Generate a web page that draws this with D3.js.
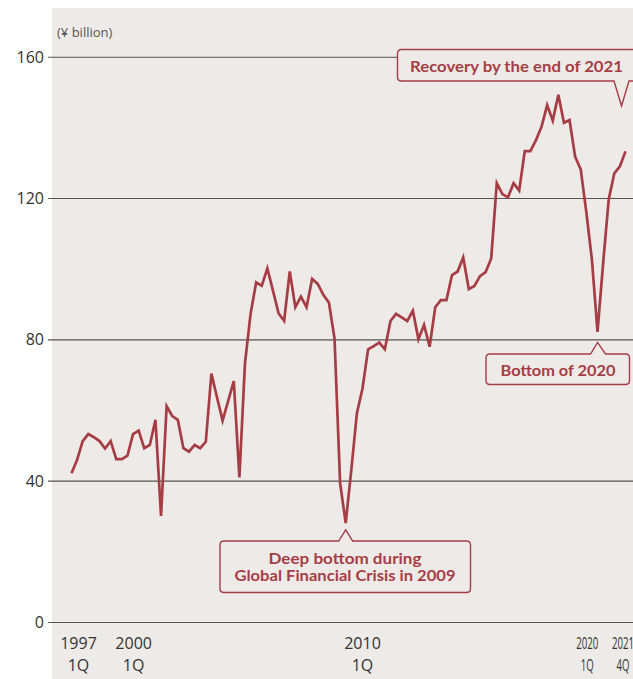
<!DOCTYPE html>
<html>
<head>
<meta charset="utf-8">
<script src="https://cdn.jsdelivr.net/npm/d3@7/dist/d3.min.js"></script>
<style>
  html, body { margin: 0; padding: 0; background: #ffffff; }
  svg { display: block; }
</style>
</head>
<body>
<svg id="chart" width="633" height="679"></svg>
<script>
// ---- data ----
const quarterIndex = d3.range(100); // 1997 1Q ... 2021 4Q
const values = [
  42.1, 45.9, 51.2, 53.2, 52.3, 51.2, 49.1, 51.2, 46.1, 46.1,
  47.1, 53.2, 54.2, 49.2, 50.1, 57.2, 30.0, 61.1, 58.3, 57.2,
  49.2, 48.2, 50.1, 49.2, 51.0, 70.3, 63.6, 57.0, 62.6, 68.2,
  40.9, 73.2, 87.2, 96.1, 95.2, 100.1, 93.8, 87.4, 85.2, 99.2,
  89.1, 92.1, 89.1, 97.1, 95.7, 92.6, 90.4, 80.3, 39.3, 28.0,
  43.0, 59.1, 66.1, 77.2, 78.1, 79.1, 77.2, 85.2, 87.2, 86.2,
  85.2, 88.1, 80.0, 84.1, 77.9, 89.1, 91.1, 91.1, 98.2, 99.2,
  103.2, 94.2, 95.1, 97.9, 99.0, 102.9, 124.2, 121.1, 120.2, 124.2,
  122.1, 133.3, 133.3, 136.4, 140.2, 146.3, 141.9, 149.2, 141.3, 142.1,
  131.7, 128.1, 116.0, 102.5, 82.1, 101.5, 119.6, 127.0, 129.0, 133.2
];
const yTicks = [0, 40, 80, 120, 160];
const xTickIndex = [0, 12, 52, 92, 99];
const xTickYear = ["1997", "2000", "2010", "2020", "2021"];
const xTickQuarter = ["1Q", "1Q", "1Q", "1Q", "4Q"];
const unitLabel = "(¥ billion)";
const noteRecovery = ["Recovery by the end of 2021"];
const noteBottom2020 = ["Bottom of 2020"];
const noteGFC = ["Deep bottom during", "Global Financial Crisis in 2009"];

// ---- styles / layout ----
const W = 633, H = 679;
const panelX = 52, panelY = 8;
const red = "#A63D45";
const bg = "#EEEAE7";
const txt = "#333333";
const numFont = "'Open Sans', 'Noto Sans', sans-serif";
const noteFont = "Lato, 'Open Sans', sans-serif";

const svg = d3.select("#chart");

svg.append("rect").attr("x", panelX).attr("y", panelY)
  .attr("width", W - panelX).attr("height", H - panelY).attr("fill", bg);

const x = d3.scaleLinear().domain([0, 99]).range([71.5, 625.5]);
const y = d3.scaleLinear().domain([0, 160]).range([622, 56.7]);

// y axis with gridlines
const yAxis = d3.axisLeft(y).tickValues(yTicks).tickSize(-(W - 48)).tickPadding(4)
  .tickFormat(d3.format("d"));
const gy = svg.append("g").attr("transform", "translate(48,0)").call(yAxis);
gy.select(".domain").remove();
gy.selectAll(".tick line").attr("stroke", "#555").attr("stroke-width", 1.1);
gy.selectAll(".tick text").attr("fill", txt).attr("font-size", 16)
  .attr("font-family", numFont).attr("dy", "0.34em");

// unit label
svg.append("text").attr("x", 57).attr("y", 37).text(unitLabel)
  .attr("fill", "#555").attr("font-size", 13).attr("font-family", numFont);

// x labels
const xOffsets = [7, -5, 0, 1, -2.5];
const condensed = [false, false, false, true, true];
const gx = svg.append("g");
xTickIndex.forEach((qi, i) => {
  const cx = x(qi) + xOffsets[i];
  const g = gx.append("g").attr("transform",
    `translate(${cx},0) scale(${condensed[i] ? 0.6 : 1},1)`);
  g.append("text").attr("x", 0).attr("y", 649).attr("text-anchor", "middle")
    .text(xTickYear[i]).attr("fill", txt).attr("font-size", 16).attr("font-family", numFont);
  g.append("text").attr("x", 0).attr("y", 671).attr("text-anchor", "middle")
    .text(xTickQuarter[i]).attr("fill", txt).attr("font-size", 16).attr("font-family", numFont);
});

// line
const line = d3.line().x((d, i) => x(quarterIndex[i])).y(d => y(d));
svg.append("path").datum(values).attr("d", line)
  .attr("fill", "none").attr("stroke", red).attr("stroke-width", 2.7)
  .attr("stroke-linejoin", "miter").attr("stroke-miterlimit", 4);

// callouts
function callout(x0, y0, x1, y1, r, side, xa, xb, tx, ty) {
  let p = `M${x0 + r},${y0}`;
  if (side === "top") p += `L${xa},${y0}L${tx},${ty}L${xb},${y0}`;
  p += `L${x1 - r},${y0}Q${x1},${y0} ${x1},${y0 + r}L${x1},${y1 - r}Q${x1},${y1} ${x1 - r},${y1}`;
  if (side === "bottom") p += `L${xb},${y1}L${tx},${ty}L${xa},${y1}`;
  p += `L${x0 + r},${y1}Q${x0},${y1} ${x0},${y1 - r}L${x0},${y0 + r}Q${x0},${y0} ${x0 + r},${y0}Z`;
  return p;
}
function drawNote(path, lines, cx, baseY, lh, widths) {
  svg.append("path").attr("d", path).attr("fill", bg).attr("stroke", red).attr("stroke-width", 1.4);
  lines.forEach((t, i) => {
    svg.append("text").attr("x", cx).attr("y", baseY + i * lh).attr("text-anchor", "middle")
      .attr("fill", red).attr("font-size", 15.5).attr("font-weight", 700)
      .attr("font-family", noteFont).attr("textLength", widths[i])
      .attr("lengthAdjust", "spacingAndGlyphs").text(t);
  });
}

// Recovery by the end of 2021 (pointer down toward last quarter)
{
  const tx = x(99) - 4, ty = 106;
  drawNote(callout(397.5, 49.5, 660, 81, 4, "bottom", tx - 7.5, tx + 7.5, tx, ty),
    noteRecovery, 516.5, 72, 0, [213]);
}
// Bottom of 2020
{
  const tx = x(94), ty = y(values[94]) + 10.5;
  drawNote(callout(486, 354, 629.5, 384.5, 4, "top", tx - 7, tx + 8, tx, ty),
    noteBottom2020, 558, 375.5, 0, [115]);
}
// GFC
{
  const tx = x(49), ty = y(values[49]) + 6.8;
  drawNote(callout(220, 541, 470.5, 592.5, 4, "top", tx - 7, tx + 7, tx, ty),
    noteGFC, 345, 563.5, 17, [153, 221]);
}
</script>
</body>
</html>
